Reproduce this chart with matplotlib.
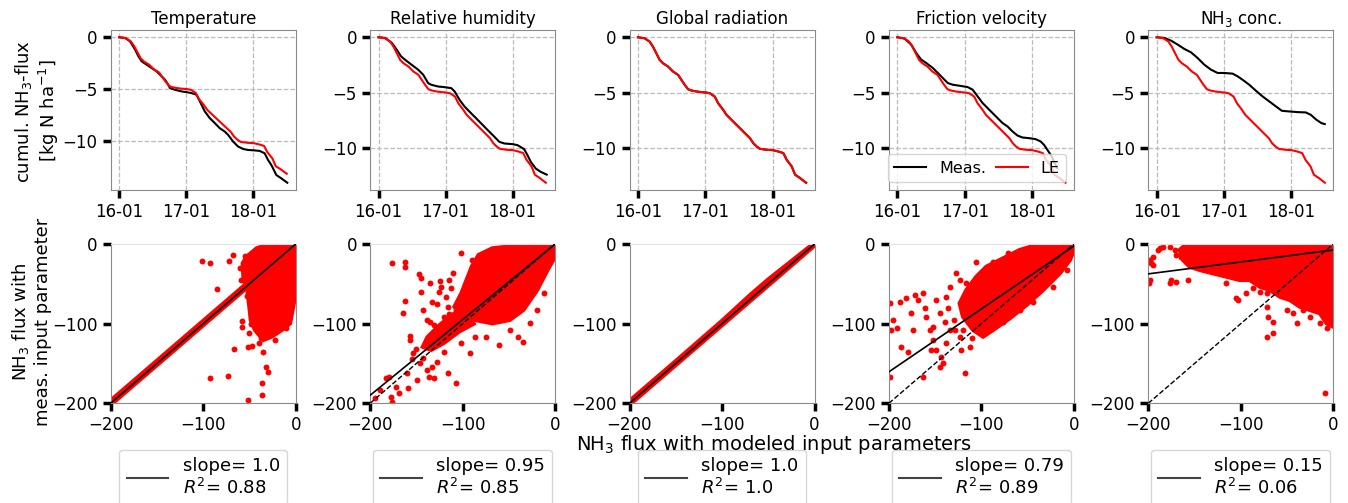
import numpy as np
import pandas as pd
import matplotlib
matplotlib.use("Agg")
import matplotlib.pyplot as plt
import matplotlib.dates as mdates
from matplotlib.lines import Line2D

plt.rcParams['font.family'] = 'DejaVu Sans'
plt.rcParams['font.size'] = 12

start = pd.Timestamp('2017-01-16')

# ---- cumulative fluxes (days since 16-01, kg N ha-1) ----
le_days = [0, 0.099, 0.174, 0.223, 0.273, 0.323, 0.372, 0.447, 0.521, 0.596, 0.645, 0.695, 0.744,
           0.794, 0.868, 0.943, 1.007, 1.067, 1.141, 1.191, 1.266, 1.315, 1.365, 1.439, 1.514, 1.588,
           1.663, 1.712, 1.762, 1.811, 1.911, 2.0, 2.084, 2.159, 2.208, 2.283, 2.333, 2.407, 2.457, 2.496]
le_flux = [0, -0.09, -0.39, -0.84, -1.44, -2.04, -2.34, -2.64, -3.09, -3.39, -3.84, -4.29, -4.68,
           -4.80, -4.89, -4.95, -4.98, -5.05, -5.35, -5.95, -6.55, -7.0, -7.3, -7.75, -8.2, -8.65,
           -9.1, -9.55, -9.85, -10.06, -10.15, -10.18, -10.3, -10.45, -11.05, -11.65, -12.4, -12.7, -12.94, -13.12]

temp_days = [0, 0.089, 0.163, 0.238, 0.287, 0.337, 0.411, 0.485, 0.559, 0.634, 0.683, 0.733, 0.757,
             0.832, 0.931, 1.0, 1.079, 1.153, 1.203, 1.277, 1.351, 1.426, 1.5, 1.574, 1.624, 1.698,
             1.772, 1.847, 1.921, 2.0, 2.094, 2.168, 2.218, 2.267, 2.317, 2.342, 2.416, 2.505]
temp_flux = [0, -0.06, -0.39, -1.19, -1.83, -2.32, -2.64, -2.96, -3.28, -3.76, -4.08, -4.57, -4.89,
             -5.05, -5.21, -5.27, -5.37, -5.53, -6.17, -7.14, -7.78, -8.26, -8.75, -9.07, -9.39, -10.03,
             -10.51, -10.74, -10.84, -10.87, -10.93, -11.16, -11.8, -12.28, -12.93, -13.25, -13.57, -13.99]

rh_days = [0, 0.099, 0.198, 0.272, 0.336, 0.395, 0.494, 0.593, 0.667, 0.741, 0.79, 0.889, 0.988,
           1.086, 1.136, 1.21, 1.284, 1.358, 1.432, 1.506, 1.58, 1.654, 1.728, 1.802, 1.877, 2.0,
           2.074, 2.173, 2.222, 2.272, 2.346, 2.42, 2.509]
rh_flux = [0, -0.06, -0.51, -1.12, -1.72, -2.02, -2.48, -2.93, -3.38, -4.14, -4.29, -4.44, -4.5,
           -4.59, -4.89, -5.65, -6.25, -6.71, -7.16, -7.61, -8.07, -8.52, -8.97, -9.43, -9.58, -9.64,
           -9.73, -10.09, -10.63, -11.24, -11.84, -12.14, -12.39]

glob_days = le_days
glob_flux = le_flux

ustar_days = [0, 0.108, 0.207, 0.281, 0.355, 0.429, 0.527, 0.626, 0.7, 0.749, 0.823, 0.921, 1.044,
              1.118, 1.192, 1.266, 1.34, 1.414, 1.488, 1.562, 1.635, 1.709, 1.783, 1.857, 1.956,
              2.054, 2.128, 2.177, 2.227, 2.276, 2.325, 2.374]
ustar_flux = [0, -0.12, -0.66, -1.42, -2.02, -2.32, -2.77, -3.37, -3.83, -4.13, -4.28, -4.37, -4.49,
              -4.73, -5.33, -5.93, -6.39, -6.84, -7.29, -7.74, -8.04, -8.49, -8.86, -9.04, -9.1,
              -9.19, -9.4, -9.7, -10.15, -10.6, -11.2, -11.8]

nh3_days = [0, 0.114, 0.212, 0.311, 0.41, 0.509, 0.607, 0.706, 0.805, 0.904, 1.002, 1.126, 1.2,
            1.274, 1.373, 1.472, 1.57, 1.669, 1.768, 1.857, 1.965, 2.089, 2.212, 2.286, 2.37, 2.444, 2.494]
nh3_flux = [0, -0.06, -0.3, -0.66, -1.05, -1.36, -1.87, -2.47, -2.92, -3.22, -3.22, -3.28, -3.52,
            -3.83, -4.28, -4.82, -5.33, -5.78, -6.23, -6.63, -6.69, -6.75, -6.78, -6.99, -7.44, -7.74, -7.83]

titles = ['Temperature', 'Relative humidity', 'Global radiation', 'Friction velocity', 'NH$_3$ conc.']
meas_days = [temp_days, rh_days, glob_days, ustar_days, nh3_days]
meas_flux = [temp_flux, rh_flux, glob_flux, ustar_flux, nh3_flux]

# ---- scatter: outlier points and dense-cloud outlines (kg N ha-1) ----
temp_x = [-100.9, -92.6, -71.7, -67.4, -54.8, -43.6, -84.7, -58.4, -57.7, -66.7, -51.5, -46.8, -92.6,
          -73.5, -35.7, -32.1, -29.5, -36.8, -36.0, -51.2, -53.0, -45.0, -42.2, -38, -22, -10, -48,
          -60, -59, -50, -40, -28]
temp_y = [-20.9, -24.3, -21.3, -13.8, -15.1, -10.9, -56.9, -96.7, -103.8, -131.4, -128.9, -128.0, -167.8,
          -165.3, -135.6, -154.0, -161.1, -174.9, -189.1, -195.8, -64.9, -80.8, -108.0, -118, -120, -105, -100,
          -30, -45, -112, -124, -110]
temp_core_x = [0, -31.4, -42.2, -53.0, -57.3, -56.6, -52.3, -50.1, -48.6, -44.0, -35.0, -26.0, -15.1, -6.1, -0.7, 0]
temp_core_y = [0, -1.3, -5.4, -15.9, -24.3, -41.0, -57.7, -78.7, -95.4, -108.0, -120.5, -116.3, -108.0, -99.6, -66.1, -24.3]
temp_band_x = [-200, -150, -100, -50, 0, 0, -50, -100, -150, -200]
temp_band_y = [-196.5, -146.5, -96.5, -46.5, 1.5, -2, -52, -102, -152, -202]

rh_x = [-175.8, -162.8, -162.8, -162.8, -164.6, -156.4, -156.4, -145.3, -145.3, -146.7, -134.8, -133.0,
        -142.3, -138.6, -134.8, -131.1, -124.4, -122.9, -118.1, -114.3, -110.6, -112.5, -101.3, -89.4,
        -106.9, -116.2, -119.9, -131.1, -119.9, -112.5, -108.8, -127.4, -133.0, -142.3, -136.7, -149.7,
        -159.0, -168.3, -177.7, -183.2, -179.5, -188.8, -194.4, -175.8, -146.0, -138.6, -131.1, -116.2,
        -106.9, -92.0, -101.3, -86.4, -75.2, -60.4, -39.9, -34.3, -49.2, -26.8, -19.4, -11.9, -153.4,
        -160.2, -172.1, -125, -128, -115, -104, -120, -150, -155]
rh_y = [-24.3, -22.2, -29.3, -71.5, -87.0, -115.5, -120.5, -60.7, -43.1, -38.1, -49.4, -72.4,
        -82.8, -95.4, -97.5, -101.7, -46.4, -53.6, -66.1, -45.2, -36.8, -55.6, -11.7, -20.1,
        -82.8, -78.7, -91.2, -120.5, -116.3, -107.9, -99.6, -147.7, -154.0, -143.5, -166.5, -170.7,
        -181.2, -187.4, -191.6, -168.6, -166.5, -183.3, -193.7, -197.9, -149.8, -158.2, -168.6, -162.3,
        -174.9, -137.2, -124.7, -116.3, -116.3, -126.8, -116.3, -122.6, -107.9, -99.6, -82.8, -61.9, -137.2,
        -162.3, -179.1, -60, -75, -88, -70, -135, -132, -145]
rh_core_x = [0, -34.3, -67.8, -82.7, -90.1, -95.7, -101.3, -108.8, -101.3, -86.4, -67.8, -49.2, -34.3, -19.4, -8.2, 0]
rh_core_y = [0, -1.3, -5.4, -13.8, -28.5, -45.2, -61.9, -78.7, -91.2, -95.4, -99.6, -95.4, -82.8, -57.7, -32.6, -15.9]
rh_band_x = [-95, -110, -125, -138, -143, -134, -120, -104, -88]
rh_band_y = [-78, -88, -102, -117, -129, -133, -124, -110, -100]

glob_x = []
glob_y = []
glob_band_x = [-200, -150, -100, -70, -50, -25, 0, 0, -25, -50, -70, -100, -150, -200]
glob_band_y = [-197, -147, -96.5, -64.5, -44.5, -21.5, 1.5, -2, -27, -52, -72, -102, -152, -202]

ustar_x = [-199.3, -197.5, -195.7, -188.4, -186.6, -181.2, -175.8, -174.0, -172.2, -168.6, -163.2, -159.6,
           -156.0, -152.3, -148.7, -145.1, -141.5, -163.2, -145.1, -137.9, -134.3, -127.1, -123.5, -116.2,
           -136.1, -128.9, -123.5, -118.1, -112.6, -154.2, -143.3, -152.3, -139.7, -161.4, -148.7, -179.4,
           -191.3, -112.6, -105.4, -87.4, -71.1, -83.8, -134.3, -121.7, -137.9, -199.3, -76.5, -58.5, -44.0,
           -22.4, -8.0, -100, -110, -95, -120, -105, -130]
ustar_y = [-74.5, -107.9, -95.4, -72.4, -128.9, -68.2, -87.0, -107.9, -64.0, -70.3, -61.9, -91.2,
           -107.9, -120.5, -133.1, -154.0, -149.8, -166.5, -87.0, -66.1, -53.6, -36.8, -45.2, -49.4,
           -80.8, -107.9, -116.3, -162.3, -128.9, -133.1, -141.4, -103.8, -97.5, -80.8, -70.3, -135.1,
           -105.9, -66.1, -22.2, -22.2, -11.7, -24.3, -107.9, -133.1, -124.7, -166.5, -97.5, -82.8, -72.4,
           -53.6, -32.6, -110, -118, -100, -108, -95, -95]
ustar_core_x = [0, -36.8, -58.5, -80.1, -94.6, -105.4, -116.2, -123.5, -119.9, -109.0, -98.2, -87.4,
                -69.3, -51.3, -33.2, -15.2, -4.3, 0]
ustar_core_y = [0, 0, -7.5, -20.1, -28.5, -41.0, -57.7, -74.5, -91.2, -107.9, -116.3, -107.9,
                -93.3, -76.6, -57.7, -36.8, -20.1, -7.5]

nh3_x = [-198.6, -196.8, -194.9, -189.5, -187.7, -184.1, -176.9, -171.5, -169.7, -164.3, -175.1, -176.9,
         -169.7, -157.0, -198.6, -199.3, -194.9, -104.7, -102.9, -79.4, -72.2, -72.2, -70.4, -65.0, -72.2,
         -65.0, -43.3, -39.7, -32.5, -25.3, -14.4, -9.0, -115.5, -93.9, -86.6, -50.5, -7.2]
nh3_y = [-20.1, -24.3, -15.9, -7.5, -5.4, -3.3, -3.3, -7.5, -13.8, -15.9, -45.2, -49.4,
         -47.3, -45.2, -45.2, -49.4, -26.4, -68.2, -70.3, -59.8, -61.9, -78.7, -91.2, -97.5, -116.3,
         -112.1, -87.0, -99.6, -82.8, -91.2, -99.6, -187.4, -49.4, -61.9, -55.6, -82.8, -105.9]
nh3_core_x = [-158.8, 0, 0, -7.2, -14.4, -25.3, -36.1, -46.9, -57.8, -68.6, -79.4, -90.3, -101.1,
              -115.5, -130.0, -144.4, -155.2, -162.5, -166.1]
nh3_core_y = [0, 0, -103.8, -99.6, -87.0, -82.8, -78.7, -70.3, -66.1, -57.7, -53.6, -45.2, -45.2,
              -41.0, -36.8, -32.6, -28.5, -20.1, -7.5]

pts_x = [temp_x, rh_x, glob_x, ustar_x, nh3_x]
pts_y = [temp_y, rh_y, glob_y, ustar_y, nh3_y]
clouds = [[(temp_core_x, temp_core_y), (temp_band_x, temp_band_y)],
          [(rh_core_x, rh_core_y), (rh_band_x, rh_band_y)],
          [(glob_band_x, glob_band_y)],
          [(ustar_core_x, ustar_core_y)],
          [(nh3_core_x, nh3_core_y)]]

slopes = ['1.0', '0.95', '1.0', '0.79', '0.15']
r2 = ['0.88', '0.85', '1.0', '0.89', '0.06']
intercepts = [0, 0, 0, -2.5, -7.5]

fig = plt.figure(figsize=(13.48, 5.03), dpi=100)
W, H = 1348, 503
grey = '#8a8a8a'

for i in range(5):
    left = (110.7 + i * 259.4) / W
    # time series
    ax = fig.add_axes([left, 1 - 190 / H, 185 / W, 160 / H])
    t_le = start + pd.to_timedelta(np.array(le_days), unit='D')
    t_me = start + pd.to_timedelta(np.array(meas_days[i]), unit='D')
    ax.plot(t_me, meas_flux[i], color='k', lw=1.5, label='Meas.')
    ax.plot(t_le, le_flux, color='red', lw=1.5, label='LE')
    ax.xaxis.set_major_locator(mdates.DayLocator())
    ax.xaxis.set_major_formatter(mdates.DateFormatter('%d-%m'))
    ax.set_yticks([0, -5, -10])
    ax.grid(True, ls='--', color='#bbbbbb', lw=0.9)
    for sp in ax.spines.values():
        sp.set_color(grey)
    ax.tick_params(length=6, width=2.5, color='k', labelsize=12)
    ax.set_title(titles[i], fontsize=12, pad=4)
    if i == 3:
        ax.legend(loc='lower right', ncol=2, fontsize=11.5, handlelength=2.0,
                  columnspacing=0.6, borderaxespad=0.5)

    # scatter
    bx = fig.add_axes([left, 1 - 403.3 / H, 185 / W, 159.3 / H])
    for cx, cy in clouds[i]:
        bx.fill(cx, cy, color='red', lw=3, zorder=1)
    bx.scatter(pts_x[i], pts_y[i], s=18, color='red', linewidths=0, zorder=2)
    xx = np.array([-200, 0])
    if i != 0 and i != 2:
        bx.plot(xx, xx, 'k--', lw=1, zorder=3)
    bx.plot(xx, float(slopes[i]) * xx + intercepts[i], color='k', lw=1.2, zorder=4)
    bx.set_xlim(-200, 0)
    bx.set_ylim(-200, 0)
    bx.set_xticks([-200, -100, 0])
    bx.set_yticks([-200, -100, 0])
    for sp in bx.spines.values():
        sp.set_color(grey)
    bx.spines['top'].set_color('#e2e2e2')
    bx.tick_params(length=6, width=2.5, color='k', labelsize=12)
    handle = Line2D([], [], color='#444444', lw=1.5)
    bx.legend([handle], [f'slope= {slopes[i]}\n$R^2$= {r2[i]}'], loc='upper center',
              bbox_to_anchor=(0.5, -0.235), fontsize=13, handlelength=2.3)

fig.text(37 / W, 1 - 111 / H, 'cumul. NH$_3$-flux\n[kg N ha$^{-1}$]', rotation=90,
         ha='center', va='center', multialignment='center', fontsize=13)
fig.text(31 / W, 1 - 322 / H, 'NH$_3$ flux with\nmeas. input parameter', rotation=90,
         ha='center', va='center', multialignment='center', fontsize=13)
fig.text(774 / W, 1 - 450 / H, 'NH$_3$ flux with modeled input parameters',
         ha='center', va='baseline', fontsize=14)

fig.savefig('out.png', dpi=100)
